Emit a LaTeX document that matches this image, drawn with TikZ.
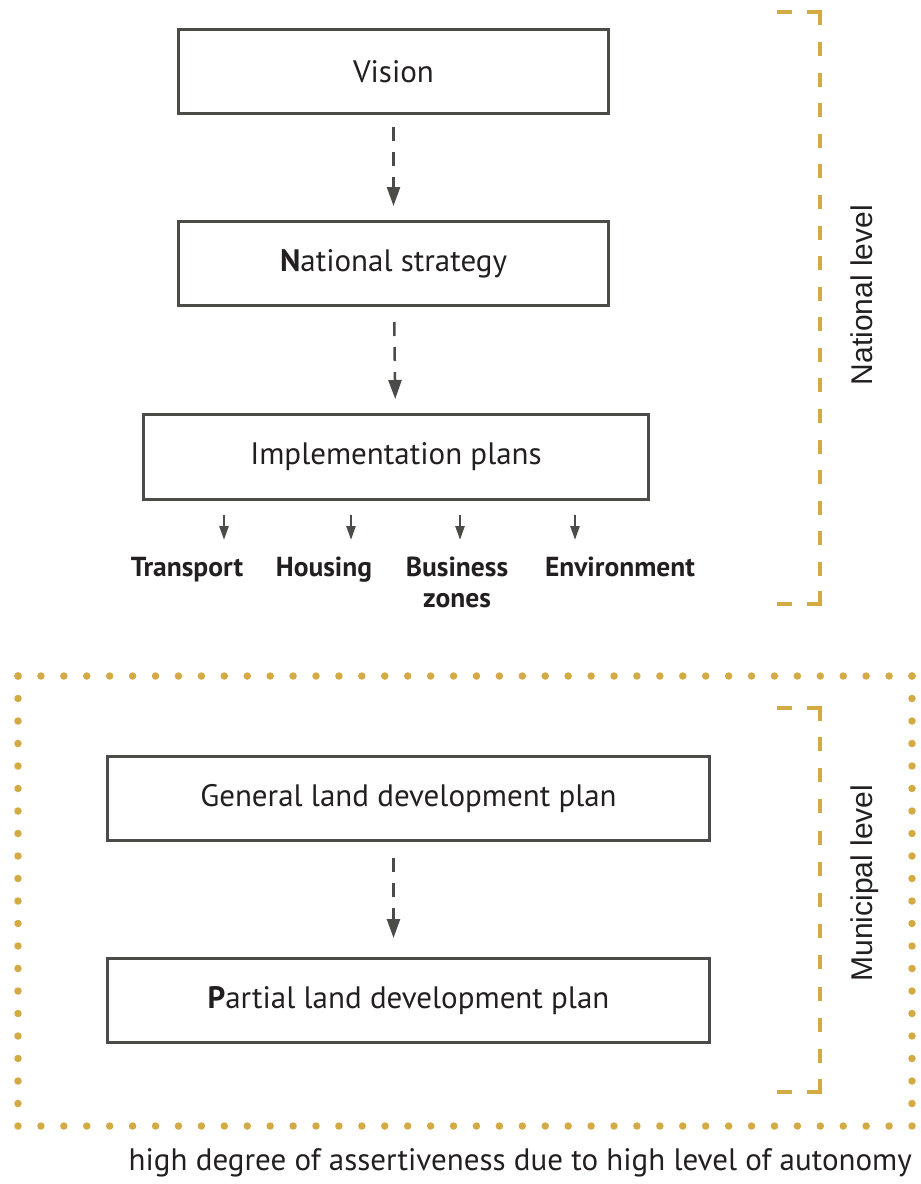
\documentclass[tikz,border=0pt]{standalone}
\usepackage{fontspec}
\setmainfont{PT Sans}
\newfontfamily\sidefont{Liberation Sans}
\usetikzlibrary{arrows.meta}
\definecolor{gold}{HTML}{D4AA45}
\definecolor{boxgray}{HTML}{4B4B47}
\definecolor{txt}{HTML}{231F20}
\tikzset{
  box/.style={draw=boxgray, line width=3pt, fill=white, text=txt, font=\fontsize{31}{36}\selectfont, inner sep=0pt},
  darr/.style={draw=boxgray, line width=2.5pt, dash pattern=on 14pt off 11pt, -{Triangle[length=19pt,width=13pt]}},
  sarr/.style={draw=boxgray, line width=2.5pt, -{Triangle[length=14pt,width=9pt]}},
  lab/.style={text=txt, font=\bfseries\fontsize{27.5}{31}\selectfont, inner sep=0pt, align=center, anchor=base},
  brk/.style={draw=gold, line width=4.5pt},
  side/.style={text=txt, font=\sidefont\fontsize{30}{36}\selectfont, inner sep=0pt, rotate=90, anchor=base},
}
\begin{document}
\begin{tikzpicture}[x=1pt,y=-1pt]
\useasboundingbox (0,0) rectangle (921,1184);
% boxes
\node[box, minimum width=430pt, minimum height=84pt] (vision) at (393.5,71.5) {Vision};
\node[box, minimum width=430pt, minimum height=84pt] (national) at (393.5,263.5) {\textbf{N}ational strategy};
\node[box, minimum width=505pt, minimum height=85pt] (impl) at (396,457) {Implementation plans};
\node[box, minimum width=602pt, minimum height=84pt] (general) at (408.5,798.5) {General land development plan};
\node[box, minimum width=602pt, minimum height=84pt] (partial) at (408.5,1000.5) {\textbf{P}artial land development plan};
% dashed arrows
\draw[darr, shorten <=12pt, shorten >=14pt] (vision) -- (national);
\draw[darr, shorten <=15pt, shorten >=14pt] (national) -- (impl);
\draw[darr, shorten <=16pt, shorten >=19pt] (general.south -| vision.south) -- (partial.north -| vision.south);
% sub labels
\node[lab] (transport) at (187,576) {Transport};
\node[lab] (housing) at (324,576) {Housing};
\node[lab] (business) at (457,607) {Business\\zones};
\node[lab] (environment) at (620,576) {Environment};
\foreach \n/\x in {transport/224, housing/351, business/460, environment/575}{
  \coordinate (e-\n) at (\x,540);
  \draw[sarr, shorten <=14pt] (impl.south -| e-\n) -- (e-\n);
}
% national bracket
\draw[brk] (777,12) -- (792,12);
\draw[brk] (807,12) -- (820,12) -- (820,25);
\draw[brk, dash pattern=on 14pt off 16.59pt] (820,42) -- (820,576);
\draw[brk] (820,591) -- (820,604) -- (807,604);
\draw[brk] (792,604) -- (777,604);
\node[side] (natlevel) at (872,295) {National level};
% dotted frame
\begin{scope}[draw=gold, line width=7.5pt, line cap=round]
\draw[dash pattern=on 0pt off 22.923pt] (18,676) -- (912,676);
\draw[dash pattern=on 0pt off 22.923pt] (18,1126) -- (912,1126);
\draw[dash pattern=on 0pt off 22.5pt] (18,676) -- (18,1126);
\draw[dash pattern=on 0pt off 22.5pt] (912,676) -- (912,1126);
\end{scope}
% municipal bracket
\draw[brk] (777,708) -- (792,708);
\draw[brk] (807,708) -- (820,708) -- (820,721);
\draw[brk, dash pattern=on 14pt off 17.2pt] (820,737) -- (820,1063);
\draw[brk] (820,1079) -- (820,1092) -- (807,1092);
\draw[brk] (792,1092) -- (777,1092);
\node[side] (munlevel) at (872,883) {Municipal level};
% bottom caption
\node[text=txt, font=\fontsize{31}{36}\selectfont, inner sep=0pt, anchor=base east] (caption) at (912,1170) {high degree of assertiveness due to high level of autonomy};
\end{tikzpicture}
\end{document}
